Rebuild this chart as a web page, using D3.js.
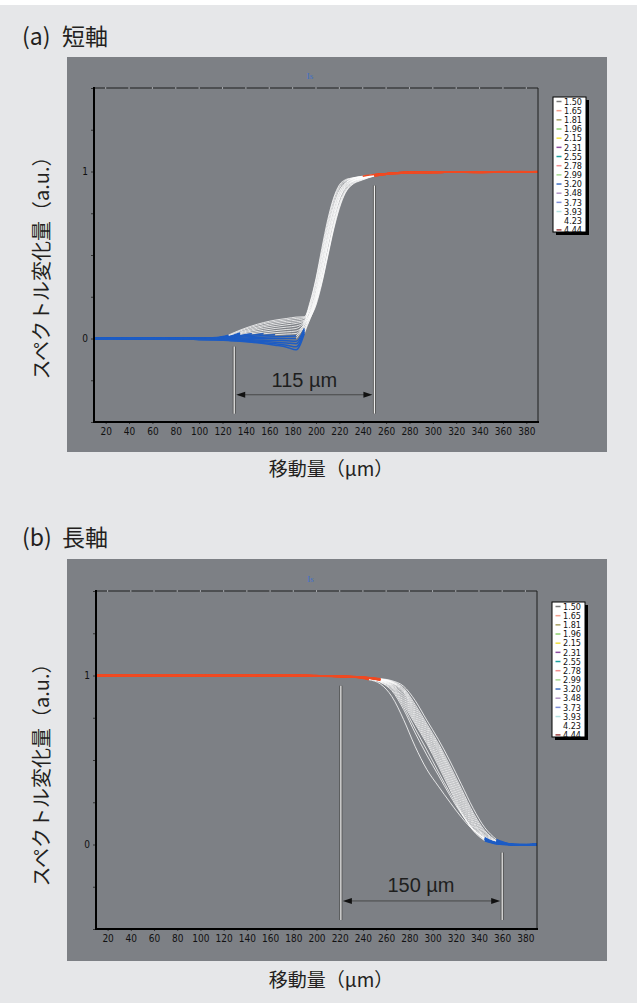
<!DOCTYPE html>
<html>
<head>
<meta charset="utf-8">
<script src="https://cdnjs.cloudflare.com/ajax/libs/d3/7.8.5/d3.min.js"></script>
<style>
  body { margin: 0; background: #e6e7e9; }
  svg { display: block; }
</style>
</head>
<body>
<div id="chart"></div>
<script>
const xA = [10, 25, 40, 55, 70, 85, 100, 115, 125, 135, 145, 155, 165, 175, 183, 190,
  195, 200, 205, 210, 215, 220, 225, 230, 240, 250, 265, 280, 300, 320, 340, 360, 375, 390];

// (a) short axis, 15 scans
const shortA = [
  [0.002, -0.004, 0.003, 0.000, -0.002, 0.004, 0.001, 0.006, 0.02, 0.05, 0.075, 0.095, 0.11, 0.12, 0.128, 0.13, 0.2, 0.33, 0.5, 0.67, 0.81, 0.9, 0.94, 0.955, 0.97, 0.98, 0.99, 0.995, 0.992, 0.998, 0.995, 1.0, 0.997, 0.999],
  [-0.003, 0.002, -0.001, 0.004, 0.000, -0.003, 0.002, 0.004, 0.015, 0.045, 0.068, 0.088, 0.102, 0.112, 0.12, 0.125, 0.22, 0.36, 0.54, 0.71, 0.84, 0.92, 0.95, 0.96, 0.972, 0.982, 0.988, 0.996, 0.994, 0.997, 0.993, 0.998, 1.0, 0.998],
  [0.001, 0.003, -0.004, -0.002, 0.003, 0.001, -0.002, 0.003, 0.012, 0.038, 0.06, 0.078, 0.093, 0.103, 0.11, 0.12, 0.17, 0.28, 0.45, 0.62, 0.77, 0.87, 0.925, 0.95, 0.968, 0.98, 0.991, 0.994, 0.997, 0.995, 0.999, 0.996, 0.998, 1.0],
  [-0.002, 0.000, 0.004, -0.003, 0.002, -0.001, 0.003, 0.002, 0.01, 0.033, 0.052, 0.07, 0.083, 0.094, 0.1, 0.11, 0.19, 0.31, 0.48, 0.65, 0.79, 0.885, 0.93, 0.952, 0.97, 0.979, 0.99, 0.993, 0.998, 0.996, 0.994, 0.999, 0.997, 0.998],
  [0.003, -0.002, 0.001, 0.003, -0.004, 0.002, 0.000, 0.001, 0.008, 0.028, 0.045, 0.06, 0.072, 0.082, 0.09, 0.105, 0.15, 0.25, 0.4, 0.57, 0.72, 0.84, 0.91, 0.94, 0.962, 0.978, 0.989, 0.995, 0.993, 0.998, 0.996, 0.997, 0.999, 0.998],
  [0.000, 0.004, -0.003, 0.001, 0.002, -0.002, 0.004, 0.000, 0.006, 0.022, 0.036, 0.049, 0.06, 0.068, 0.075, 0.1, 0.21, 0.35, 0.52, 0.69, 0.83, 0.91, 0.945, 0.958, 0.97, 0.981, 0.99, 0.996, 0.995, 0.997, 0.999, 0.996, 0.998, 0.999],
  [-0.004, 0.001, 0.002, -0.001, 0.003, 0.004, -0.002, -0.001, 0.004, 0.017, 0.028, 0.038, 0.047, 0.054, 0.06, 0.095, 0.14, 0.23, 0.38, 0.55, 0.7, 0.83, 0.9, 0.935, 0.96, 0.977, 0.988, 0.994, 0.996, 0.995, 0.998, 0.997, 0.999, 0.997],
  [0.002, -0.003, 0.000, 0.002, -0.001, 0.003, 0.001, -0.002, 0.002, 0.012, 0.02, 0.028, 0.035, 0.04, 0.045, 0.09, 0.18, 0.3, 0.47, 0.64, 0.78, 0.88, 0.93, 0.95, 0.966, 0.98, 0.99, 0.995, 0.997, 0.996, 0.998, 0.999, 0.997, 1.0],
  [-0.001, 0.002, 0.003, -0.004, 0.001, 0.000, 0.003, 0.000, 0.0, 0.007, 0.012, 0.018, 0.023, 0.027, 0.03, 0.085, 0.13, 0.22, 0.36, 0.52, 0.68, 0.81, 0.89, 0.93, 0.958, 0.976, 0.987, 0.993, 0.996, 0.998, 0.995, 0.998, 0.996, 0.999],
  [0.003, 0.000, -0.002, 0.002, 0.004, -0.003, 0.000, -0.003, -0.002, 0.002, 0.005, 0.008, 0.011, 0.013, 0.015, 0.08, 0.16, 0.27, 0.43, 0.6, 0.75, 0.86, 0.92, 0.945, 0.964, 0.979, 0.99, 0.994, 0.997, 0.997, 0.999, 0.996, 0.998, 0.998],
  [0.000, -0.004, 0.002, 0.001, -0.002, 0.003, -0.003, -0.004, -0.004, -0.003, -0.002, -0.001, 0.0, 0.0, 0.0, 0.07, 0.13, 0.22, 0.35, 0.51, 0.67, 0.8, 0.88, 0.925, 0.955, 0.975, 0.986, 0.993, 0.995, 0.997, 0.996, 0.999, 0.998, 0.997],
  [-0.002, 0.003, 0.000, -0.003, 0.002, 0.001, -0.004, -0.005, -0.006, -0.007, -0.008, -0.01, -0.012, -0.014, -0.017, 0.06, 0.15, 0.26, 0.42, 0.59, 0.74, 0.855, 0.915, 0.94, 0.962, 0.978, 0.989, 0.995, 0.994, 0.998, 0.997, 0.996, 0.999, 0.998],
  [0.004, -0.001, -0.003, 0.003, 0.000, -0.002, -0.005, -0.006, -0.008, -0.011, -0.014, -0.018, -0.022, -0.027, -0.032, 0.05, 0.12, 0.21, 0.34, 0.5, 0.66, 0.79, 0.875, 0.92, 0.953, 0.974, 0.987, 0.992, 0.996, 0.995, 0.998, 0.997, 0.996, 0.999],
  [-0.003, 0.002, 0.004, -0.002, -0.003, 0.000, -0.006, -0.008, -0.01, -0.014, -0.019, -0.025, -0.031, -0.04, -0.05, 0.04, 0.14, 0.24, 0.39, 0.56, 0.72, 0.84, 0.905, 0.935, 0.96, 0.977, 0.988, 0.994, 0.997, 0.996, 0.995, 0.998, 0.997, 0.999],
  [0.001, -0.005, 0.001, 0.002, -0.004, 0.002, -0.007, -0.009, -0.012, -0.017, -0.023, -0.03, -0.04, -0.052, -0.068, 0.03, 0.12, 0.2, 0.33, 0.49, 0.65, 0.78, 0.87, 0.915, 0.95, 0.973, 0.986, 0.993, 0.995, 0.997, 0.996, 0.997, 0.999, 0.998]
];

const xB = [10, 25, 40, 55, 70, 85, 100, 115, 130, 145, 160, 175, 190, 205, 220, 235,
  245, 255, 265, 275, 285, 295, 305, 315, 325, 335, 345, 355, 365, 375, 390];

// (b) long axis, 15 scans
const longB = [
  [1.002, 0.998, 1.003, 0.999, 1.001, 0.997, 1.002, 1.0, 0.998, 1.003, 0.999, 1.001, 0.997, 0.996, 0.993, 0.988, 0.975, 0.95, 0.875, 0.74, 0.58, 0.445, 0.345, 0.25, 0.16, 0.085, 0.035, 0.01, 0.0, -0.004, 0.001],
  [0.999, 1.003, 0.997, 1.002, 0.998, 1.001, 0.999, 1.004, 1.0, 0.997, 1.002, 0.998, 0.999, 0.997, 0.994, 0.99, 0.98, 0.96, 0.91, 0.8, 0.66, 0.53, 0.41, 0.29, 0.18, 0.09, 0.035, 0.01, 0.001, -0.002, 0.0],
  [1.001, 0.997, 1.002, 1.0, 0.996, 1.003, 1.001, 0.998, 1.002, 0.999, 1.0, 1.003, 0.998, 0.996, 0.995, 0.991, 0.98, 0.962, 0.918, 0.815, 0.685, 0.56, 0.43, 0.305, 0.185, 0.09, 0.033, 0.009, 0.0, -0.003, 0.002],
  [0.998, 1.002, 1.0, 0.997, 1.003, 0.999, 0.998, 1.002, 1.001, 0.998, 1.003, 0.999, 1.0, 0.997, 0.995, 0.991, 0.979, 0.965, 0.926, 0.828, 0.714, 0.598, 0.466, 0.326, 0.188, 0.082, 0.022, 0.004, 0.0, -0.002, -0.001],
  [1.003, 0.999, 0.998, 1.002, 1.0, 0.997, 1.003, 0.999, 1.001, 1.002, 0.997, 1.0, 0.999, 0.998, 0.994, 0.99, 0.98, 0.967, 0.932, 0.84, 0.725, 0.61, 0.48, 0.34, 0.2, 0.09, 0.025, 0.005, 0.0, 0.001, -0.002],
  [0.999, 1.001, 1.004, 0.998, 0.999, 1.002, 1.0, 0.997, 1.003, 1.0, 0.998, 1.002, 1.001, 0.996, 0.995, 0.992, 0.981, 0.969, 0.937, 0.852, 0.736, 0.622, 0.494, 0.354, 0.214, 0.1, 0.03, 0.006, 0.001, -0.003, 0.0],
  [1.0, 0.998, 1.001, 1.003, 0.997, 1.0, 1.002, 0.999, 0.997, 1.002, 1.001, 0.998, 1.0, 0.998, 0.993, 0.99, 0.982, 0.97, 0.941, 0.864, 0.747, 0.634, 0.508, 0.368, 0.228, 0.11, 0.035, 0.008, 0.001, -0.001, 0.001],
  [1.002, 1.0, 0.997, 0.999, 1.002, 1.001, 0.998, 1.003, 0.999, 0.998, 1.001, 1.003, 0.997, 0.997, 0.995, 0.991, 0.983, 0.972, 0.946, 0.876, 0.758, 0.646, 0.522, 0.382, 0.242, 0.12, 0.04, 0.009, 0.001, -0.004, 0.0],
  [0.997, 1.002, 1.0, 1.001, 0.998, 1.003, 0.999, 1.0, 1.002, 0.997, 0.999, 1.001, 1.002, 0.998, 0.994, 0.992, 0.984, 0.973, 0.95, 0.888, 0.769, 0.658, 0.536, 0.396, 0.256, 0.13, 0.045, 0.011, 0.002, -0.002, -0.001],
  [1.001, 0.999, 1.002, 0.998, 1.0, 1.003, 0.997, 1.001, 0.999, 1.003, 1.0, 0.997, 0.999, 0.997, 0.996, 0.992, 0.985, 0.975, 0.955, 0.9, 0.78, 0.67, 0.55, 0.41, 0.27, 0.14, 0.05, 0.012, 0.002, -0.003, 0.001],
  [0.998, 1.003, 0.999, 1.0, 1.002, 0.998, 1.001, 0.997, 1.003, 1.0, 0.998, 1.002, 1.0, 0.996, 0.994, 0.991, 0.985, 0.976, 0.958, 0.907, 0.792, 0.681, 0.562, 0.424, 0.284, 0.152, 0.058, 0.015, 0.003, -0.002, 0.0],
  [1.002, 0.999, 1.001, 0.997, 1.003, 1.0, 0.998, 1.002, 1.0, 0.999, 1.003, 0.999, 0.998, 0.998, 0.995, 0.992, 0.986, 0.977, 0.96, 0.913, 0.804, 0.692, 0.574, 0.438, 0.298, 0.164, 0.066, 0.017, 0.003, -0.004, 0.0],
  [0.999, 1.001, 0.998, 1.002, 0.999, 1.001, 1.003, 0.998, 1.0, 1.002, 0.997, 1.001, 1.002, 0.997, 0.996, 0.993, 0.986, 0.978, 0.962, 0.92, 0.816, 0.703, 0.586, 0.452, 0.312, 0.176, 0.074, 0.02, 0.004, -0.001, -0.002],
  [1.0, 0.998, 1.003, 1.0, 0.998, 0.999, 1.002, 1.001, 0.997, 1.001, 1.002, 0.998, 1.0, 0.998, 0.995, 0.993, 0.987, 0.979, 0.965, 0.926, 0.828, 0.714, 0.598, 0.466, 0.326, 0.188, 0.082, 0.022, 0.004, -0.003, 0.001],
  [1.003, 1.0, 0.999, 1.001, 0.997, 1.002, 1.0, 0.998, 1.002, 0.999, 1.0, 1.003, 0.998, 0.997, 0.996, 0.993, 0.988, 0.981, 0.969, 0.937, 0.852, 0.736, 0.622, 0.494, 0.354, 0.214, 0.1, 0.03, 0.006, -0.002, 0.0]
];

const xTicks = [20, 40, 60, 80, 100, 120, 140, 160, 180, 200, 220, 240, 260, 280, 300, 320, 340, 360, 380];
const yTicks = [-0.5, -0.25, 0, 0.25, 0.5, 0.75, 1, 1.25, 1.5];
const legendLabels = ["1.50", "1.65", "1.81", "1.96", "2.15", "2.31", "2.55", "2.78", "2.99", "3.20", "3.48", "3.73", "3.93", "4.23", "4.44"];

// styles
const legendColors = ["#7a7a7a", "#f2a08e", "#a9a064", "#8fd070", "#f2e040", "#8d4fa0", "#1fa0a0", "#f09090",
  "#a6d890", "#3f6fc0", "#b094c4", "#7f8fd8", "#b4e2e2", "#ffffff", "#a04444"];
const BLUE = "#1d5cc4", RED = "#f04a22", WHITE = "#ffffff";
const PANEL = "#7d8085";
const JP = "'Noto Sans CJK JP', 'Noto Sans', sans-serif";
const NARROW = "'Liberation Sans Narrow', 'DejaVu Sans Condensed', sans-serif";

const panels = [
  { tag: "(a)", name: "短軸", titleY: 45, box: [67, 57, 540, 395], l: 94, t: 88, r: 538, b: 422,
    xs: xA, series: shortA, legX: 553, legY: 97, yLabelCy: 263, xLabelY: 476,
    dim: { x0: 130, x1: 250, top0: -0.048, top1: 0.916, bot: -0.45, arrowY: -0.337, textX: 190, textY: -0.29, label: "115 µm" } },
  { tag: "(b)", name: "長軸", titleY: 546, box: [67, 559, 540, 402], l: 96, t: 591, r: 537, b: 929,
    xs: xB, series: longB, legX: 552, legY: 602, yLabelCy: 770, xLabelY: 987,
    dim: { x0: 221, x1: 360, top0: 0.94, top1: -0.047, bot: -0.447, arrowY: -0.334, textX: 290, textY: -0.283, label: "150 µm" } }
];

const svg = d3.select("#chart").append("svg")
  .attr("width", 637)
  .attr("height", 1003);

svg.append("rect").attr("width", 637).attr("height", 1003).attr("fill", "#e6e7e9");
svg.append("rect").attr("width", 637).attr("height", 5).attr("fill", "#ffffff");

panels.forEach((p, pi) => drawPanel(p, pi));

function drawPanel(p, pi) {
  const g = svg.append("g");

  // titles
  g.append("text").attr("x", 22).attr("y", p.titleY)
    .attr("font-family", JP).attr("font-size", 23).attr("fill", "#231f20")
    .text(p.tag);
  g.append("text").attr("x", 62).attr("y", p.titleY)
    .attr("font-family", JP).attr("font-size", 23).attr("fill", "#231f20")
    .text(p.name);

  // grey plot background
  g.append("rect")
    .attr("x", p.box[0]).attr("y", p.box[1])
    .attr("width", p.box[2]).attr("height", p.box[3])
    .attr("fill", PANEL);

  const x = d3.scaleLinear().domain([10, 390]).range([p.l, p.r]);
  const y = d3.scaleLinear().domain([-0.5, 1.5]).range([p.b, p.t]);

  // little "Is" mark above the plot
  g.append("text").attr("x", (p.l + p.r) / 2 - 6).attr("y", p.t - 9)
    .attr("text-anchor", "middle")
    .attr("font-family", "'Liberation Serif', serif").attr("font-size", 9)
    .attr("fill", "#3f6fc8").text("Is");

  // clip
  const clipId = "clip" + pi;
  svg.append("clipPath").attr("id", clipId)
    .append("rect").attr("x", p.l).attr("y", p.t).attr("width", p.r - p.l).attr("height", p.b - p.t);

  // split each scan into runs coloured by level: near 0 blue, near 1 red, transition white
  const runs = [];
  p.series.forEach(s => {
    let cur = null;
    for (let i = 0; i < s.length - 1; i++) {
      const m = (s[i] + s[i + 1]) / 2;
      const c = m < 0.025 ? BLUE : m > 0.976 ? RED : WHITE;
      if (!cur || cur.c !== c) {
        cur = { c: c, pts: [[p.xs[i], s[i]]] };
        runs.push(cur);
      }
      cur.pts.push([p.xs[i + 1], s[i + 1]]);
    }
  });
  const order = { [WHITE]: 0, [BLUE]: 1, [RED]: 2 };
  runs.sort((a, b) => order[a.c] - order[b.c]);

  const line = d3.line()
    .x(d => x(d[0]))
    .y(d => y(d[1]))
    .curve(d3.curveMonotoneX);

  g.append("g").attr("clip-path", `url(#${clipId})`)
    .selectAll("path")
    .data(runs)
    .join("path")
    .attr("d", d => line(d.pts))
    .attr("fill", "none")
    .attr("stroke", d => d.c)
    .attr("stroke-width", d => d.c === WHITE ? 0.8 : 1.5)
    .attr("stroke-linejoin", "round");

  // frame: thin top/right, heavy left/bottom
  g.append("line").attr("x1", p.l).attr("x2", p.r).attr("y1", p.t).attr("y2", p.t)
    .attr("stroke", "#1e1e1e").attr("stroke-width", 1);
  g.append("line").attr("x1", p.r).attr("x2", p.r).attr("y1", p.t).attr("y2", p.b)
    .attr("stroke", "#1e1e1e").attr("stroke-width", 1);
  g.append("g").selectAll("line").data(xTicks).join("line")
    .attr("x1", d => x(d)).attr("x2", d => x(d))
    .attr("y1", p.t - 1).attr("y2", p.t + 1)
    .attr("stroke", "#a4a6aa").attr("stroke-width", 1);

  // x axis
  const xAxis = g.append("g")
    .attr("transform", `translate(0,${p.b})`)
    .call(d3.axisBottom(x).tickValues(xTicks).tickSize(2).tickPadding(4));
  xAxis.select(".domain").remove();
  xAxis.attr("font-family", NARROW).attr("font-size", 10);
  xAxis.selectAll("line").attr("stroke", "#333");
  xAxis.selectAll("text").attr("fill", "#111");

  // y axis
  const yAxis = g.append("g")
    .attr("transform", `translate(${p.l},0)`)
    .call(d3.axisLeft(y).tickValues(yTicks).tickSize(3).tickPadding(3)
      .tickFormat(d => (d === 0 || d === 1) ? d : ""));
  yAxis.select(".domain").remove();
  yAxis.attr("font-family", NARROW).attr("font-size", 10);
  yAxis.selectAll("line").attr("stroke", "#333");
  yAxis.selectAll("text").attr("fill", "#111");

  g.append("line").attr("x1", p.l).attr("x2", p.l).attr("y1", p.t - 1).attr("y2", p.b + 1)
    .attr("stroke", "#000").attr("stroke-width", 2);
  g.append("line").attr("x1", p.l - 1).attr("x2", p.r + 1).attr("y1", p.b).attr("y2", p.b)
    .attr("stroke", "#000").attr("stroke-width", 2);

  // dimension lines
  const dm = p.dim;
  [[dm.x0, dm.top0], [dm.x1, dm.top1]].forEach(([vx, vt]) => {
    g.append("line").attr("x1", x(vx)).attr("x2", x(vx)).attr("y1", y(vt)).attr("y2", y(dm.bot))
      .attr("stroke", "#4a4a4a").attr("stroke-width", 3);
    g.append("line").attr("x1", x(vx)).attr("x2", x(vx)).attr("y1", y(vt)).attr("y2", y(dm.bot))
      .attr("stroke", "#ececec").attr("stroke-width", 1.3);
  });
  const ay = y(dm.arrowY);
  const ax0 = x(dm.x0) + 2, ax1 = x(dm.x1) - 2;
  g.append("line").attr("x1", ax0 + 6).attr("x2", ax1 - 6).attr("y1", ay).attr("y2", ay)
    .attr("stroke", "#3a3a3a").attr("stroke-width", 0.8);
  g.append("path")
    .attr("d", `M${ax0},${ay} l9,-3 l0,6 Z M${ax1},${ay} l-9,-3 l0,6 Z`)
    .attr("fill", "#111");
  g.append("text").attr("x", x(dm.textX)).attr("y", y(dm.textY))
    .attr("text-anchor", "middle")
    .attr("font-family", "'Liberation Sans', Arial, sans-serif").attr("font-size", 20)
    .attr("fill", "#1e1e1e").text(dm.label);

  // legend
  const lg = g.append("g").attr("transform", `translate(${p.legX},${p.legY})`);
  lg.append("rect").attr("x", 3).attr("y", 3).attr("width", 33).attr("height", 135).attr("fill", "#000");
  lg.append("rect").attr("x", 0).attr("y", 0).attr("width", 33).attr("height", 135)
    .attr("fill", "#fff").attr("stroke", "#000").attr("stroke-width", 1);
  const rows = lg.selectAll("g.row").data(legendLabels).join("g")
    .attr("class", "row")
    .attr("transform", (d, i) => `translate(0,${4.5 + i * 9.17})`);
  rows.append("line").attr("x1", 3.5).attr("x2", 8.5).attr("y1", 0).attr("y2", 0)
    .attr("stroke", (d, i) => legendColors[i]).attr("stroke-width", 1.5);
  rows.append("text").attr("x", 11).attr("y", 0).attr("dy", "0.36em")
    .attr("font-family", NARROW).attr("font-size", 9).attr("fill", "#111")
    .text(d => d);

  // axis titles
  g.append("text")
    .attr("transform", `translate(40,${p.yLabelCy}) rotate(-90)`)
    .attr("text-anchor", "middle").attr("dominant-baseline", "central")
    .attr("font-family", JP).attr("font-size", 20).attr("fill", "#231f20")
    .text("スペクトル変化量（a.u.）");
  g.append("text")
    .attr("x", 331).attr("y", p.xLabelY)
    .attr("text-anchor", "middle")
    .attr("font-family", JP).attr("font-size", 19).attr("fill", "#231f20")
    .text("移動量（μm）");
}
</script>
</body>
</html>
